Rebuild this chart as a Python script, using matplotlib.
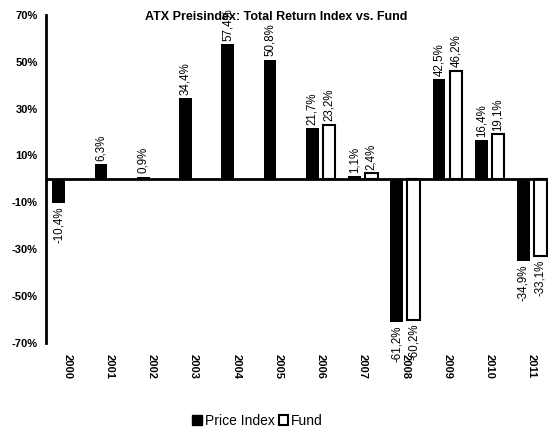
import numpy as np
import matplotlib
matplotlib.use('Agg')
import matplotlib.pyplot as plt
from matplotlib.patches import Patch

plt.rcParams['font.family'] = ['Liberation Sans', 'DejaVu Sans']

years = ['2000', '2001', '2002', '2003', '2004', '2005',
         '2006', '2007', '2008', '2009', '2010', '2011']
price_index = [-10.4, 6.3, 0.9, 34.4, 57.4, 50.8, 21.7, 1.1, -61.2, 42.5, 16.4, -34.9]
fund = [np.nan, np.nan, np.nan, np.nan, np.nan, np.nan, 23.2, 2.4, -60.2, 46.2, 19.1, -33.1]

x = np.arange(len(years))
w = 0.3
off = 0.2

fig = plt.figure(figsize=(5.48, 4.28), dpi=100)
ax = fig.add_axes([0.084, 0.199, 0.916, 0.766])

ax.bar(x - off, price_index, width=w, color='black', zorder=3)
ax.bar(x + off, fund, width=w, color='white', edgecolor='black', linewidth=1.5, zorder=3)


def fmt(v):
    return ('%.1f%%' % v).replace('.', ',')


for xs, vals in [(x - off, price_index), (x + off, fund)]:
    for xi, v in zip(xs, vals):
        if np.isnan(v):
            continue
        if v >= 0:
            ax.text(xi, v + 1.5, fmt(v), rotation=90, ha='center', va='bottom', fontsize=8.3)
        else:
            ax.text(xi, v - 1.5, fmt(v), rotation=90, ha='center', va='top', fontsize=8.3)

ax.set_ylim(-70, 70)
ax.set_xlim(-0.5, 11.38)
ax.set_yticks(np.arange(-70, 71, 20))
ax.set_yticklabels(['%d%%' % t for t in np.arange(-70, 71, 20)], fontweight='bold', fontsize=8)
ax.set_xticks(x)
ax.set_xticklabels(years, rotation=-90, fontweight='bold', fontsize=8)
ax.tick_params(axis='x', length=0, pad=8)
ax.tick_params(axis='y', length=0, pad=6)

for s in ['top', 'right', 'bottom']:
    ax.spines[s].set_visible(False)
ax.spines['left'].set_linewidth(2)
ax.axhline(0, color='black', linewidth=2, zorder=4)

ax.text(0.458, 0.993, 'ATX Preisindex: Total Return Index vs. Fund', transform=ax.transAxes,
        fontsize=9, fontweight='bold', ha='center', va='center', zorder=5)

handles = [Patch(facecolor='black', edgecolor='black'),
           Patch(facecolor='white', edgecolor='black', linewidth=1.5)]
fig.legend(handles, ['Price Index', 'Fund'], loc='center', bbox_to_anchor=(0.47, 0.017),
           ncol=2, frameon=False, fontsize=10, handlelength=0.7, handleheight=0.7,
           handletextpad=0.2, columnspacing=0.3)

fig.savefig('out.png', dpi=100)
